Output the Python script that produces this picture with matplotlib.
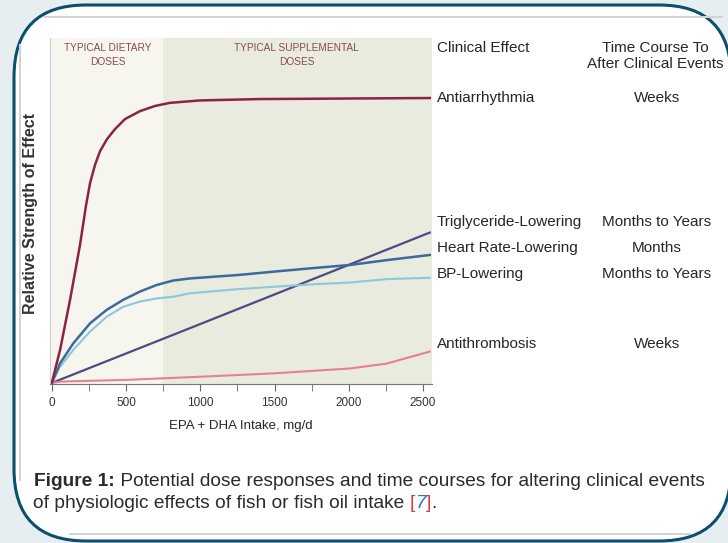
"""Dose responses and time courses of fish oil intake (Figure 1 redraw)."""

import matplotlib
matplotlib.use('Agg')
from matplotlib import pyplot
from matplotlib.patches import FancyBboxPatch

# Curve data: EPA + DHA intake (mg/d) vs relative strength.
arrhythmia_x = [0, 56, 123, 190, 231, 258, 291, 325, 372, 426, 493, 594, 695,
                796, 997, 1400, 2545]
arrhythmia_y = [0, 9.6, 24.1, 40.0, 51.6, 58.0, 63.2, 67.2, 70.7, 73.6, 76.5,
                78.8, 80.3, 81.2, 81.9, 82.3, 82.6]

heart_x = [0, 56, 145, 258, 370, 481, 594, 706, 818, 931, 1255, 1502, 1760,
           2007, 2253, 2545]
heart_y = [0, 5.7, 11.5, 17.3, 21.2, 24.1, 26.5, 28.4, 29.7, 30.3, 31.3, 32.3,
           33.3, 34.2, 35.6, 37.1]

bp_x = [0, 56, 145, 258, 370, 481, 594, 706, 818, 931, 1255, 1502, 1760,
        2007, 2253, 2545]
bp_y = [0, 4.7, 9.6, 14.9, 19.2, 22.1, 23.6, 24.5, 25.0, 26.0, 27.2, 27.9,
        28.6, 29.1, 30.1, 30.5]

trig_x = [0, 931, 2545]
trig_y = [0, 15.9, 43.6]

thromb_x = [0, 60, 504, 997, 1502, 2007, 2253, 2545]
thromb_y = [0, 0.4, 0.9, 1.8, 2.8, 4.2, 5.6, 9.1]

xticks = [0, 500, 1000, 1500, 2000, 2500]
minor_xticks = [250, 750, 1250, 1750, 2250]

effects = ['Antiarrhythmia', 'Triglyceride-Lowering', 'Heart Rate-Lowering',
           'BP-Lowering', 'Antithrombosis']
time_courses = ['Weeks', 'Months to Years', 'Months', 'Months to Years',
                'Weeks']

pyplot.rc('font', family=['Liberation Sans', 'DejaVu Sans'])

fig = pyplot.figure(figsize=(7.28, 5.43), dpi=100)
fig.patch.set_facecolor('#e6eef2')

# Background axes in pixel coordinates for the card and the side text.
bg = fig.add_axes([0, 0, 1, 1])
bg.set_xlim(0, 728)
bg.set_ylim(543, 0)
bg.axis('off')

card = FancyBboxPatch((14, 5), 717, 536,
                      boxstyle='round,pad=0,rounding_size=72',
                      facecolor='white', edgecolor='#0b4f6c', linewidth=2.2)
bg.add_patch(card)
bg.plot([45, 722], [17, 17], color='#d4d4d4', lw=1.5)
bg.plot([20, 20], [45, 480], color='#d4d4d4', lw=1.5)
bg.plot([70, 690], [534, 534], color='#d4d4d4', lw=1.5)

txt = '#262626'
side_fs = 11
bg.text(437, 48, 'Clinical Effect', fontsize=side_fs, color=txt, va='center')
bg.text(655, 56, 'Time Course To\nAfter Clinical Events', fontsize=side_fs,
        color=txt, va='center', ha='center', linespacing=1.1)
rows_y = [98, 222, 248, 274, 344]
for effect, course, y in zip(effects, time_courses, rows_y):
    bg.text(437, y, effect, fontsize=side_fs, color=txt, va='center')
    bg.text(657, y, course, fontsize=side_fs, color=txt, va='center',
            ha='center')

bg.text(31, 213, 'Relative Strength of Effect', rotation=90, fontsize=11.5,
        fontweight='bold', color='#333333', va='center', ha='center')

# Caption.
cap_fs = 13.8
t1 = bg.text(34, 482, 'Figure 1:', fontsize=cap_fs, fontweight='bold',
             color='#2a2a2a', va='center')
bg.annotate(' Potential dose responses and time courses for altering '
            'clinical events', xy=(1, 0), xycoords=t1, va='bottom',
            fontsize=cap_fs, color='#2a2a2a')
t2 = bg.text(33, 504, 'of physiologic effects of fish or fish oil intake ',
             fontsize=cap_fs, color='#2a2a2a', va='center')
t3 = bg.annotate('[', xy=(1, 0), xycoords=t2, va='bottom', fontsize=cap_fs,
                 color='#e03a3a')
t4 = bg.annotate('7', xy=(1, 0), xycoords=t3, va='bottom', fontsize=cap_fs,
                 color='#2f6fc4', style='italic')
t5 = bg.annotate(']', xy=(1, 0), xycoords=t4, va='bottom', fontsize=cap_fs,
                 color='#e03a3a')
bg.annotate('.', xy=(1, 0), xycoords=t5, va='bottom', fontsize=cap_fs,
            color='#2a2a2a')

# Main plot.
ax = fig.add_axes([50 / 728, 1 - 384 / 543, 382 / 728, 346 / 543])
ax.set_xlim(-12, 2560)
ax.set_ylim(-0.3, 100)
ax.axvspan(-12, 750, color='#f6f6ef', lw=0)
ax.axvspan(750, 2560, color='#e8ebdd', lw=0)

ax.plot(trig_x, trig_y, color='#4b4a82', lw=1.6)
ax.plot(thromb_x, thromb_y, color='#e6828f', lw=1.5)
ax.plot(bp_x, bp_y, color='#8ec6dc', lw=1.5)
ax.plot(heart_x, heart_y, color='#3d6a9e', lw=1.8)
ax.plot(arrhythmia_x, arrhythmia_y, color='#8b2346', lw=1.8)

dose_color = '#8a4a52'
ax.text(375, 95.0, 'TYPICAL DIETARY\nDOSES', fontsize=7.3, color=dose_color,
        ha='center', va='center', linespacing=1.45)
ax.text(1650, 95.0, 'TYPICAL SUPPLEMENTAL\nDOSES', fontsize=7.3,
        color=dose_color, ha='center', va='center', linespacing=1.45)

ax.set_xticks(xticks)
ax.set_xticks(minor_xticks, minor=True)
ax.set_yticks([])
ax.tick_params(axis='x', which='both', direction='out', length=5,
               color='#666666', labelsize=8.5, labelcolor='#333333', pad=4)
ax.set_xlabel('EPA + DHA Intake, mg/d', fontsize=9.5, color=txt, labelpad=8)
for side in ['top', 'right']:
    ax.spines[side].set_visible(False)
ax.spines['left'].set_color('#cfcfcf')
ax.spines['bottom'].set_color('#777777')

fig.savefig('out.png', dpi=100, facecolor=fig.get_facecolor())
